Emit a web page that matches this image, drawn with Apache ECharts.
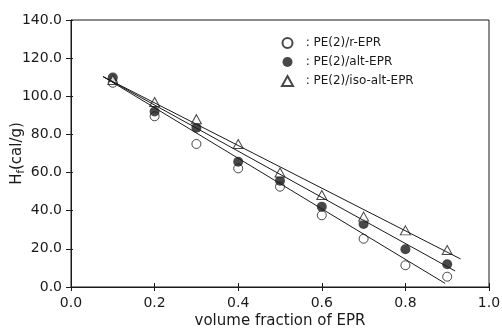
<!DOCTYPE html>
<html><head><meta charset="utf-8">
<script src="https://cdn.jsdelivr.net/npm/echarts@6/dist/echarts.min.js"></script>
<style>html,body{margin:0;padding:0;background:#fff}#c{width:502px;height:329px}</style>
</head><body><div id="c"></div>
<script>
const xValues = [0.1, 0.2, 0.3, 0.4, 0.5, 0.6, 0.7, 0.8, 0.9];
const rEPR    = [107.1, 89.5, 75.0, 62.2, 52.6, 37.6, 25.3, 11.4, 5.4];
const altEPR  = [109.8, 92.0, 83.5, 65.7, 55.7, 42.1, 33.0, 19.8, 11.9];
const isoEPR  = [108.5, 97.0, 88.0, 75.0, 60.0, 48.2, 36.9, 29.7, 19.4];
// fitted straight lines: [x, y] endpoints
const rFitX = [0.077, 0.895], rFitY = [110.3, 1.9];
const altFitX = [0.077, 0.919], altFitY = [110.3, 8.4];
const isoFitX = [0.077, 0.932], isoFitY = [110.3, 14.7];
const seriesNames = ['PE(2)/r-EPR', 'PE(2)/alt-EPR', 'PE(2)/iso-alt-EPR'];
const yTicks = [0, 20, 40, 60, 80, 100, 120, 140];
const xTicks = [0, 0.2, 0.4, 0.6, 0.8, 1.0];

const ink = '#1a1a1a';
const font = 'DejaVu Sans, Verdana, sans-serif';
const pts = ys => xValues.map((x, i) => [x, ys[i]]);
const line = (xs, ys) => xs.map((x, i) => [x, ys[i]]);

const chart = echarts.init(document.getElementById('c'));
const baseX = {
  type: 'value', min: xTicks[0], max: xTicks[xTicks.length - 1], interval: 0.2,
  splitLine: {show: false}
};
const baseY = {
  type: 'value', min: yTicks[0], max: yTicks[yTicks.length - 1], interval: 20,
  splitLine: {show: false}
};
chart.setOption({
  animation: false,
  backgroundColor: '#fff',
  grid: {left: 71, right: 13, top: 20, bottom: 42, containLabel: false, outerBoundsMode: 'none',
         show: true, borderColor: ink, borderWidth: 1},
  legend: {
    data: seriesNames, orient: 'vertical', left: 276, top: 32, itemGap: 7,
    itemWidth: 11, itemHeight: 10,
    formatter: n => '  : ' + n,
    textStyle: {fontFamily: font, fontSize: 12, color: ink}
  },
  xAxis: [
    Object.assign({}, baseX, {
      name: 'volume fraction of EPR', nameLocation: 'middle', nameGap: 27, nameMoveOverlap: false,
      nameTextStyle: {fontFamily: font, fontSize: 15, color: ink},
      axisLine: {lineStyle: {color: ink}},
      axisTick: {show: true, length: 4, lineStyle: {color: ink}},
      axisLabel: {formatter: v => v.toFixed(1), fontFamily: font, fontSize: 14, color: ink, margin: 9}
    }),
    Object.assign({}, baseX, {
      position: 'bottom', axisLine: {show: false}, axisLabel: {show: false},
      axisTick: {show: true, inside: true, length: 4, lineStyle: {color: ink}}
    })
  ],
  yAxis: [
    Object.assign({}, baseY, {
      name: '{h|H}{s|f}{h|(cal/g)}', nameLocation: 'middle', nameGap: 45, nameMoveOverlap: false,
      nameTextStyle: {fontFamily: font, color: ink, rich: {
        h: {fontFamily: font, fontSize: 15, color: ink},
        s: {fontFamily: font, fontSize: 10, color: ink, verticalAlign: 'bottom', padding: [7, 0, 0, 0]}
      }},
      axisLine: {lineStyle: {color: ink}},
      axisTick: {show: true, length: 5, lineStyle: {color: ink}},
      axisLabel: {formatter: v => v.toFixed(1), fontFamily: font, fontSize: 14, color: ink, margin: 9}
    }),
    Object.assign({}, baseY, {
      position: 'left', axisLine: {show: false}, axisLabel: {show: false},
      axisTick: {show: true, inside: true, length: 2, lineStyle: {color: ink}}
    })
  ],
  series: [
    {type: 'line', data: line(rFitX, rFitY), symbol: 'none', lineStyle: {color: ink, width: 1}, silent: true},
    {type: 'line', data: line(altFitX, altFitY), symbol: 'none', lineStyle: {color: ink, width: 1}, silent: true},
    {type: 'line', data: line(isoFitX, isoFitY), symbol: 'none', lineStyle: {color: ink, width: 1}, silent: true},
    {name: seriesNames[0], type: 'scatter', data: pts(rEPR), symbol: 'circle', symbolSize: 9,
     itemStyle: {color: '#fff', borderColor: ink, borderWidth: 1}},
    {name: seriesNames[1], type: 'scatter', data: pts(altEPR), symbol: 'circle', symbolSize: 10,
     itemStyle: {color: ink}},
    {name: seriesNames[2], type: 'scatter', data: pts(isoEPR), symbol: 'triangle', symbolSize: [10, 9],
     itemStyle: {color: '#fff', borderColor: ink, borderWidth: 1}}
  ]
});
</script></body></html>
